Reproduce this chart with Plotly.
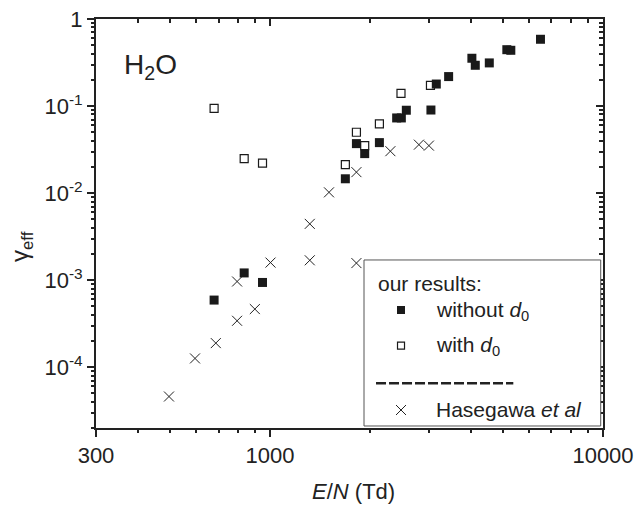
import math
import plotly.graph_objects as go

# ---------------- data ----------------
en_without = [679, 836, 949, 1683, 1817, 1924, 2130, 2400, 2479, 2566, 3042,
              3157, 3438, 4038, 4134, 4555, 5142, 5286, 6489]
gamma_without = [5.9e-4, 1.21e-3, 9.4e-4, 1.46e-2, 3.7e-2, 2.84e-2, 3.8e-2,
                 7.3e-2, 7.3e-2, 8.95e-2, 9.0e-2, 0.179, 0.218, 0.354, 0.294,
                 0.313, 0.444, 0.437, 0.585]

en_with = [679, 836, 949, 1683, 1817, 1924, 2130, 2473, 3032]
gamma_with = [9.4e-2, 2.49e-2, 2.21e-2, 2.12e-2, 5.0e-2, 3.51e-2, 6.23e-2,
              0.140, 0.173]

en_hase = [497, 595, 687, 796, 900, 796, 1003, 1316, 1817, 1316, 1503, 1817,
           2298, 2799, 3000]
gamma_hase = [4.6e-5, 1.26e-4, 1.89e-4, 3.41e-4, 4.65e-4, 9.64e-4, 1.59e-3,
              1.69e-3, 1.57e-3, 4.43e-3, 1.02e-2, 1.74e-2, 3.03e-2, 3.6e-2,
              3.51e-2]

x_tickvals = [300, 1000, 10000]
x_ticktext = ["300", "1000", "10000"]
x_minor = [400, 500, 600, 700, 800, 900,
           2000, 3000, 4000, 5000, 6000, 7000, 8000, 9000]

y_tickvals = [1e-4, 1e-3, 1e-2, 1e-1, 1]
y_ticktext = ["10<sup>-4</sup>", "10<sup>-3</sup>", "10<sup>-2</sup>",
              "10<sup>-1</sup>", "1"]
y_minor = [m * 10.0 ** e for e in range(-5, 0) for m in range(2, 10)]

x_range = [math.log10(300), 4]
y_range = [math.log10(2e-5), 0]

INK = "#222222"
FONT = "Arial, Liberation Sans, sans-serif"

fig = go.Figure()
fig.add_trace(go.Scatter(x=en_hase, y=gamma_hase, mode="markers",
                         marker=dict(symbol="x-thin", size=10,
                                     line=dict(width=1, color=INK))))
fig.add_trace(go.Scatter(x=en_without, y=gamma_without, mode="markers",
                         marker=dict(symbol="square", size=9, color="#1a1a1a",
                                     line=dict(width=0))))
fig.add_trace(go.Scatter(x=en_with, y=gamma_with, mode="markers",
                         marker=dict(symbol="square-open", size=8,
                                     color="#1a1a1a",
                                     line=dict(width=1.2, color="#1a1a1a"))))
# empty traces carrying the extra tick axes (mirror + minor ticks)
for k in (2, 3, 4):
    fig.add_trace(go.Scatter(x=[], y=[], xaxis=f"x{k}", yaxis=f"y{k}",
                             mode="markers"))

base = dict(type="log", showgrid=False, zeroline=False, automargin=False,
            tickcolor=INK, tickwidth=1.5, linecolor=INK, linewidth=2,
            tickfont=dict(family=FONT, size=22, color=INK),
            tickmode="array")

fig.update_layout(
    width=635, height=512,
    margin=dict(l=96, r=32, t=19, b=84),
    paper_bgcolor="white", plot_bgcolor="white",
    showlegend=False,
    font=dict(family=FONT, color=INK),
    xaxis=dict(**base, range=x_range, showline=True, ticks="outside",
               ticklen=7, tickvals=x_tickvals, ticktext=x_ticktext),
    xaxis2=dict(**base, range=x_range, overlaying="x", side="top",
                anchor="y", showline=True, ticks="inside", ticklen=7,
                tickvals=x_tickvals, showticklabels=False),
    xaxis3=dict(**base, range=x_range, overlaying="x", side="bottom",
                anchor="y", showline=False, ticks="outside", ticklen=4,
                tickvals=x_minor, showticklabels=False),
    xaxis4=dict(**base, range=x_range, overlaying="x", side="top",
                anchor="y", showline=False, ticks="inside", ticklen=4,
                tickvals=x_minor, showticklabels=False),
    yaxis=dict(**base, range=y_range, showline=True, ticks="outside",
               ticklen=7, tickvals=y_tickvals, ticktext=y_ticktext),
    yaxis2=dict(**base, range=y_range, overlaying="y", side="right",
                anchor="x", showline=True, ticks="inside", ticklen=7,
                tickvals=y_tickvals, showticklabels=False),
    yaxis3=dict(**base, range=y_range, overlaying="y", side="left",
                anchor="x", showline=False, ticks="outside", ticklen=4,
                tickvals=y_minor, showticklabels=False),
    yaxis4=dict(**base, range=y_range, overlaying="y", side="right",
                anchor="x", showline=False, ticks="inside", ticklen=4,
                tickvals=y_minor, showticklabels=False),
)

# legend box drawn by hand
shapes = [
    dict(type="rect", xref="paper", yref="paper", x0=0.5286, x1=0.9955,
         y0=0.0049, y1=0.4108, line=dict(color="#555555", width=1),
         fillcolor="white", layer="above"),
    dict(type="rect", xref="paper", yref="paper", xsizemode="pixel",
         ysizemode="pixel", xanchor=0.6016, yanchor=0.2885,
         x0=-4, x1=4, y0=-4, y1=4, fillcolor="#1a1a1a",
         line=dict(width=0), layer="above"),
    dict(type="rect", xref="paper", yref="paper", xsizemode="pixel",
         ysizemode="pixel", xanchor=0.6016, yanchor=0.2012,
         x0=-3.5, x1=3.5, y0=-3.5, y1=3.5, fillcolor="white",
         line=dict(width=1.2, color="#1a1a1a"), layer="above"),
    dict(type="line", xref="paper", yref="paper", xsizemode="pixel",
         ysizemode="pixel", xanchor=0.6016, yanchor=0.0440,
         x0=-5, x1=5, y0=-5, y1=5, line=dict(width=1, color=INK),
         layer="above"),
    dict(type="line", xref="paper", yref="paper", xsizemode="pixel",
         ysizemode="pixel", xanchor=0.6016, yanchor=0.0440,
         x0=-5, x1=5, y0=5, y1=-5, line=dict(width=1, color=INK),
         layer="above"),
    dict(type="line", xref="paper", yref="paper", x0=0.5523, x1=0.8231,
         y0=0.1093, y1=0.1093, line=dict(width=2.5, color=INK,
                                         dash="10px,3px"), layer="above"),
]
fig.update_layout(shapes=shapes)

ann_font = dict(family=FONT, size=21, color=INK)
annotations = [
    dict(text="our results:", x=0.5523, y=0.3545, xref="paper", yref="paper",
         xanchor="left", yanchor="middle", showarrow=False, font=ann_font),
    dict(text="without <i>d</i><sub>0</sub>", x=0.6667, y=0.2861,
         xref="paper", yref="paper", xanchor="left", yanchor="middle",
         showarrow=False, font=ann_font),
    dict(text="with <i>d</i><sub>0</sub>", x=0.6667, y=0.2005,
         xref="paper", yref="paper", xanchor="left", yanchor="middle",
         showarrow=False, font=ann_font),
    dict(text="Hasegawa <i>et al</i>", x=0.6667, y=0.0447,
         xref="paper", yref="paper", xanchor="left", yanchor="middle",
         showarrow=False, font=ann_font),
    dict(text="H<sub>2</sub>O", x=0.0507, y=0.9306, xref="paper",
         yref="paper", xanchor="left", yanchor="top", showarrow=False,
         font=dict(family=FONT, size=28, color=INK)),
    dict(text="<i>E</i>/<i>N</i> (Td)", x=0.508, y=-0.1193, xref="paper",
         yref="paper", xanchor="center", yanchor="top", showarrow=False,
         font=dict(family=FONT, size=22, color=INK)),
    dict(text="γ<sub>eff</sub>", x=-0.146, y=0.445, xref="paper",
         yref="paper", xanchor="center", yanchor="middle", textangle=-90,
         showarrow=False, font=dict(family=FONT, size=24, color=INK)),
]
fig.update_layout(annotations=annotations)

fig.write_html("out.html")
